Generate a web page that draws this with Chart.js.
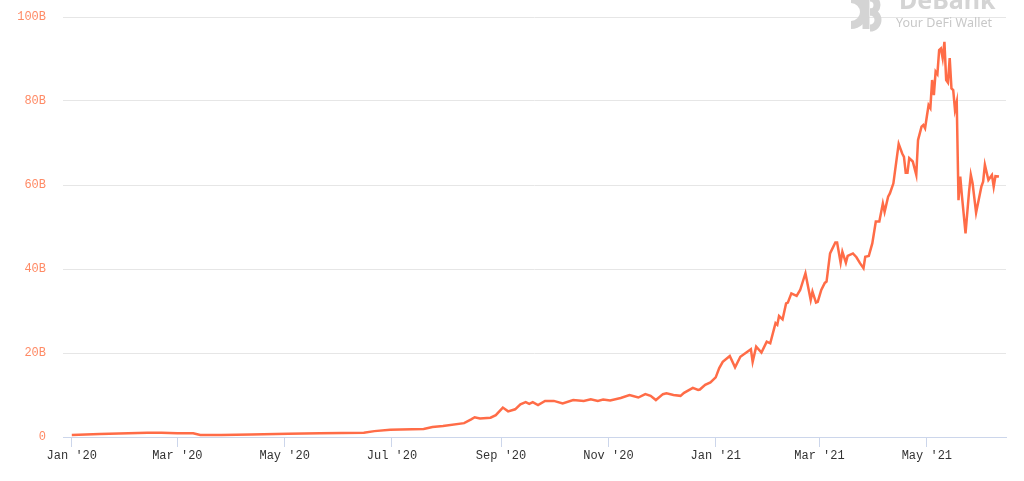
<!DOCTYPE html>
<html>
<head>
<meta charset="utf-8">
<script src="https://cdn.jsdelivr.net/npm/chart.js@4/dist/chart.umd.min.js"></script>
<style>
    html, body { margin: 0; padding: 0; background: #fff; }
</style>
</head>
<body>
<canvas id="tvlChart" width="1024" height="481"></canvas>
<script>
// Data (TVL in billions USD)
const dates = [
    '2020-01-01', '2020-01-17', '2020-02-13', '2020-02-21', '2020-03-01', '2020-03-10', '2020-03-14', '2020-03-26',
    '2020-04-12', '2020-05-03', '2020-05-21', '2020-06-15', '2020-06-21', '2020-06-30', '2020-07-06', '2020-07-19',
    '2020-07-24', '2020-07-30', '2020-08-11', '2020-08-15', '2020-08-17', '2020-08-20', '2020-08-26', '2020-08-29',
    '2020-09-02', '2020-09-05', '2020-09-09', '2020-09-12', '2020-09-15', '2020-09-17', '2020-09-19', '2020-09-22',
    '2020-09-26', '2020-10-01', '2020-10-06', '2020-10-12', '2020-10-18', '2020-10-22', '2020-10-26', '2020-10-29',
    '2020-11-02', '2020-11-08', '2020-11-13', '2020-11-18', '2020-11-22', '2020-11-25', '2020-11-28', '2020-12-02',
    '2020-12-04', '2020-12-08', '2020-12-12', '2020-12-14', '2020-12-19', '2020-12-22', '2020-12-23', '2020-12-26',
    '2020-12-29', '2021-01-01', '2021-01-03', '2021-01-05', '2021-01-09', '2021-01-12', '2021-01-15', '2021-01-21',
    '2021-01-22', '2021-01-24', '2021-01-27', '2021-01-30', '2021-02-01', '2021-02-04', '2021-02-05', '2021-02-06',
    '2021-02-08', '2021-02-10', '2021-02-11', '2021-02-13', '2021-02-16', '2021-02-18', '2021-02-21', '2021-02-24',
    '2021-02-25', '2021-02-27', '2021-02-28', '2021-03-02', '2021-03-04', '2021-03-05', '2021-03-07', '2021-03-10',
    '2021-03-11', '2021-03-13', '2021-03-14', '2021-03-16', '2021-03-17', '2021-03-20', '2021-03-22', '2021-03-24',
    '2021-03-26', '2021-03-27', '2021-03-29', '2021-03-31', '2021-04-02', '2021-04-04', '2021-04-06', '2021-04-07',
    '2021-04-09', '2021-04-10', '2021-04-12', '2021-04-14', '2021-04-15', '2021-04-17', '2021-04-18', '2021-04-19',
    '2021-04-20', '2021-04-21', '2021-04-23', '2021-04-25', '2021-04-26', '2021-04-28', '2021-04-29', '2021-04-30',
    '2021-05-01', '2021-05-02', '2021-05-03', '2021-05-04', '2021-05-05', '2021-05-06', '2021-05-07', '2021-05-08',
    '2021-05-09', '2021-05-10', '2021-05-11', '2021-05-12', '2021-05-13', '2021-05-14', '2021-05-15', '2021-05-16',
    '2021-05-17', '2021-05-18', '2021-05-19', '2021-05-20', '2021-05-21', '2021-05-23', '2021-05-25', '2021-05-26',
    '2021-05-27', '2021-05-29', '2021-06-01', '2021-06-02', '2021-06-03', '2021-06-05', '2021-06-07', '2021-06-08',
    '2021-06-09', '2021-06-11'
];
const tvl = [
    0.5, 0.7, 1.0, 1.0, 0.9, 0.9, 0.5, 0.5,
    0.6, 0.8, 0.9, 1.0, 1.4, 1.7, 1.8, 1.9,
    2.4, 2.6, 3.3, 4.2, 4.7, 4.4, 4.6, 5.2,
    7.0, 6.1, 6.6, 7.8, 8.3, 7.9, 8.3, 7.6,
    8.6, 8.6, 8.0, 8.8, 8.6, 9.0, 8.6, 8.9,
    8.7, 9.3, 10.0, 9.4, 10.2, 9.8, 8.8, 10.2,
    10.4, 10.0, 9.8, 10.5, 11.7, 11.2, 11.3, 12.4,
    13.0, 14.2, 16.4, 17.9, 19.3, 16.6, 19.1, 20.9,
    17.9, 21.5, 20.1, 22.7, 22.3, 27.1, 26.7, 28.8,
    28.0, 31.8, 32.0, 34.2, 33.6, 35.0, 39.0, 32.6,
    34.6, 32.0, 32.2, 35.0, 36.7, 37.0, 43.7, 46.3,
    46.3, 41.5, 44.1, 41.5, 43.1, 43.7, 42.8, 41.4,
    40.2, 42.9, 43.1, 46.1, 51.3, 51.3, 55.6, 53.6,
    57.2, 58.0, 60.4, 66.7, 69.8, 67.5, 66.7, 62.9,
    62.9, 66.4, 65.6, 62.4, 70.7, 73.9, 74.3, 73.5,
    76.3, 79.0, 78.3, 85.0, 81.4, 87.0, 86.4, 92.1,
    92.5, 90.2, 94.1, 85.0, 84.4, 90.2, 83.0, 82.6,
    77.9, 79.8, 56.4, 62.0, 57.2, 48.5, 58.4, 62.4,
    60.4, 53.4, 59.6, 60.8, 64.8, 61.2, 62.4, 59.6,
    62.1, 62.0
];

// X axis ticks (every other month)
const tickDates = ['2020-01-01', '2020-03-01', '2020-05-01', '2020-07-01', '2020-09-01', '2020-11-01', '2021-01-01', '2021-03-01', '2021-05-01'];
const tickLabels = ["Jan '20", "Mar '20", "May '20", "Jul '20", "Sep '20", "Nov '20", "Jan '21", "Mar '21", "May '21"];
const axisStart = '2019-12-27';
const axisEnd = '2021-06-15';

// Y axis ticks
const yTicks = [0, 20, 40, 60, 80, 100];

// days since 2020-01-01
function toDay(str) {
    const [y, m, d] = str.split('-').map(Number);
    return (Date.UTC(y, m - 1, d) - Date.UTC(2020, 0, 1)) / 86400000;
}

const points = dates.map((d, i) => ({ x: toDay(d), y: tvl[i] }));
const tickDays = tickDates.map(toDay);

// DeBank watermark in the top right corner
const watermark = {
    id: 'watermark',
    beforeDatasetsDraw(chart) {
        const ctx = chart.ctx;
        ctx.save();
        ctx.fillStyle = '#d4d4d4';
        ctx.strokeStyle = '#d4d4d4';
        // logo: crescent + B
        ctx.lineWidth = 8;
        ctx.beginPath();
        ctx.arc(851, 12, 13, -Math.PI / 2, Math.PI / 2);
        ctx.stroke();
        ctx.lineWidth = 7;
        ctx.beginPath();
        ctx.moveTo(866, -4);
        ctx.lineTo(866, 29);
        ctx.stroke();
        ctx.beginPath();
        ctx.arc(870, 5, 7, -Math.PI / 2, Math.PI / 2);
        ctx.stroke();
        ctx.beginPath();
        ctx.arc(870, 20, 8, -Math.PI / 2, Math.PI / 2);
        ctx.stroke();
        // texts
        ctx.textAlign = 'left';
        ctx.textBaseline = 'alphabetic';
        ctx.font = 'bold 25px "Noto Sans"';
        ctx.fillText('DeBank', 899, 9);
        ctx.fillStyle = '#c8c8c8';
        ctx.font = '13px "Noto Sans"';
        ctx.fillText('Your DeFi Wallet', 896, 27, 96);
        ctx.restore();
    }
};

const ctx = document.getElementById('tvlChart').getContext('2d');
new Chart(ctx, {
    type: 'line',
    data: {
        datasets: [{
            data: points,
            borderColor: '#ff6c47',
            borderWidth: 2.5,
            pointRadius: 0,
            tension: 0,
            fill: false
        }]
    },
    options: {
        responsive: false,
        animation: false,
        devicePixelRatio: 1,
        layout: { padding: { top: 17, right: 18, left: 0, bottom: 0 } },
        plugins: {
            legend: { display: false },
            tooltip: { enabled: false }
        },
        scales: {
            x: {
                type: 'linear',
                min: toDay(axisStart),
                max: toDay(axisEnd),
                afterBuildTicks: s => { s.ticks = tickDays.map(v => ({ value: v })); },
                afterFit: s => { s.height = 44; },
                grid: { drawOnChartArea: false, color: '#ccd6eb', tickLength: 10 },
                border: { color: '#ccd6eb' },
                ticks: {
                    autoSkip: false,
                    maxRotation: 0,
                    padding: 2,
                    color: '#333333',
                    font: { family: '"Liberation Mono", monospace', size: 12 },
                    callback: v => tickLabels[tickDays.indexOf(v)]
                }
            },
            y: {
                min: 0,
                max: 100,
                afterBuildTicks: s => { s.ticks = yTicks.map(v => ({ value: v })); },
                afterFit: s => { s.width = 63; },
                // invisible tick marks keep the labels 17px away from the plot
                grid: { color: '#e6e6e6', drawTicks: true, tickLength: 17, tickColor: 'rgba(0,0,0,0)' },
                border: { display: false },
                ticks: {
                    padding: 0,
                    color: '#ff8a65',
                    font: { family: '"Liberation Mono", monospace', size: 12 },
                    callback: v => (v === 0 ? '0' : v + 'B')
                }
            }
        }
    },
    plugins: [watermark]
});
</script>
</body>
</html>
